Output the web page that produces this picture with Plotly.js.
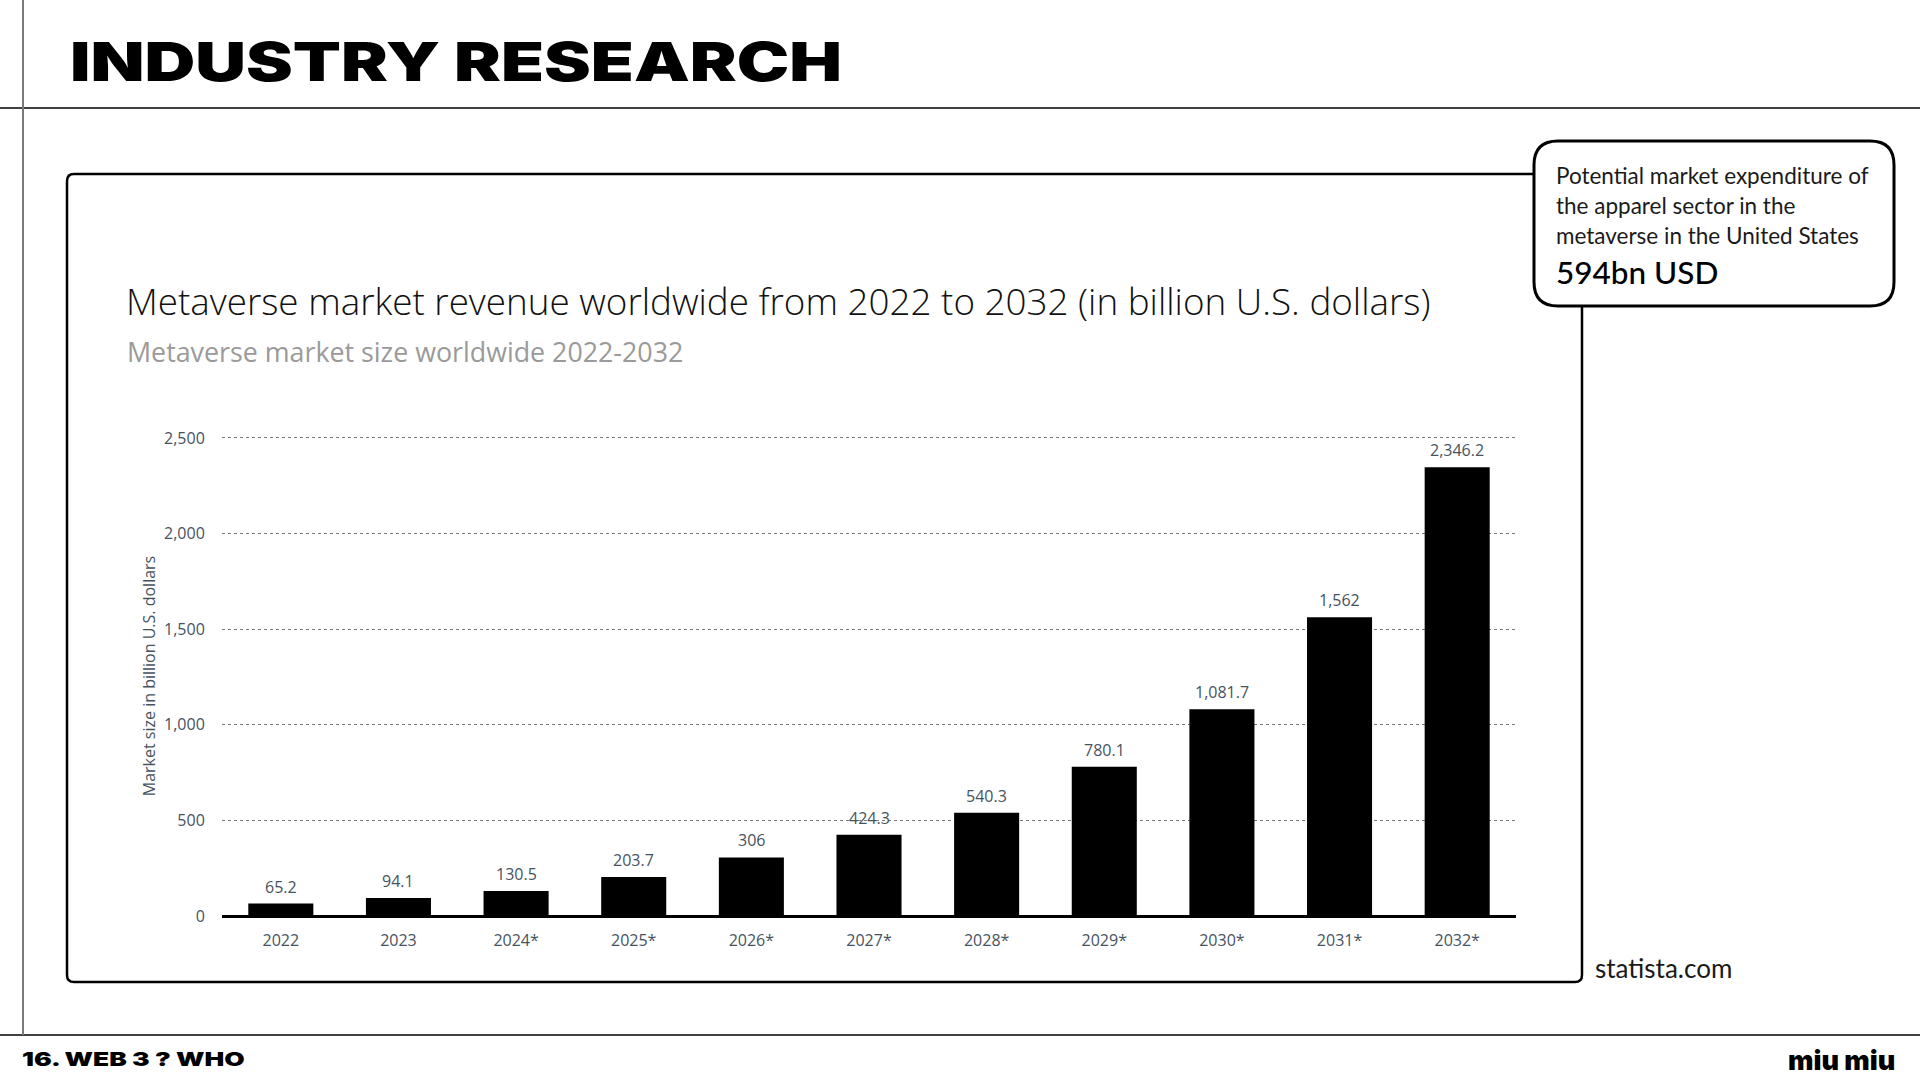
<!DOCTYPE html>
<html>
<head>
<meta charset="utf-8">
<script src="https://cdn.plot.ly/plotly-3.0.1.min.js"></script>
<style>
  html, body { margin: 0; padding: 0; background: #ffffff; }
  #chart { width: 1920px; height: 1080px; }
</style>
</head>
<body>
<div id="chart"></div>
<script>
// Metaverse market size worldwide, billion U.S. dollars (* = forecast)
const years = ['2022', '2023', '2024*', '2025*', '2026*', '2027*', '2028*', '2029*', '2030*', '2031*', '2032*'];
const marketSize = [65.2, 94.1, 130.5, 203.7, 306, 424.3, 540.3, 780.1, 1081.7, 1562, 2346.2];
const yTicks = [0, 500, 1000, 1500, 2000, 2500];

const chartTitle = 'Metaverse market revenue worldwide from 2022 to 2032 (in billion U.S. dollars)';
const chartSubtitle = 'Metaverse market size worldwide 2022-2032';
const yAxisTitle = 'Market size in billion U.S. dollars';
const pageTitle = 'INDUSTRY RESEARCH';
const calloutLines = ['Potential market expenditure of', 'the apparel sector in the', 'metaverse in the United States'];
const calloutValue = '594bn USD';
const sourceText = 'statista.com';
const footerLeft = '16. WEB 3 ? WHO';
const footerRight = 'miu miu';

// Plot area in page pixels; page decorations are positioned in pixels and
// converted to paper coordinates relative to this box.
const PLOT = { left: 222, right: 1516, top: 436, bottom: 916 };
const PW = PLOT.right - PLOT.left;
const PH = PLOT.bottom - PLOT.top;
const X = px => (px - PLOT.left) / PW;
const Y = py => (PLOT.bottom - py) / PH;

function roundRectPath(x0, y0, x1, y1, r) {
  const p = (x, y) => X(x).toFixed(5) + ',' + Y(y).toFixed(5);
  return 'M' + p(x0 + r, y0) +
    ' L' + p(x1 - r, y0) + ' Q' + p(x1, y0) + ' ' + p(x1, y0 + r) +
    ' L' + p(x1, y1 - r) + ' Q' + p(x1, y1) + ' ' + p(x1 - r, y1) +
    ' L' + p(x0 + r, y1) + ' Q' + p(x0, y1) + ' ' + p(x0, y1 - r) +
    ' L' + p(x0, y0 + r) + ' Q' + p(x0, y0) + ' ' + p(x0 + r, y0) + ' Z';
}

const slate = '#46535f';
const chartFont = 'Open Sans, Noto Sans, sans-serif';
const roundFont = 'Lato, Noto Sans, sans-serif';
const heavyFont = 'Inter, DejaVu Sans, sans-serif';

const trace = {
  type: 'bar',
  x: years,
  y: marketSize,
  marker: { color: '#000000', line: { width: 0 } },
  hoverinfo: 'skip'
};

function label(text, px, py, opts) {
  return Object.assign({
    text: text,
    xref: 'paper', yref: 'paper',
    x: X(px), y: Y(py),
    xanchor: 'left', yanchor: 'middle',
    showarrow: false,
    font: { family: roundFont, size: 19, color: '#111111' }
  }, opts || {});
}

// value labels above each bar (x is the category position)
const valueLabels = marketSize.map((v, i) => ({
  text: v.toLocaleString('en-US', { maximumFractionDigits: 1 }),
  xref: 'x', yref: 'y',
  x: i, y: v,
  xanchor: 'center', yanchor: 'middle',
  yshift: 17,
  showarrow: false,
  font: { family: chartFont, size: 16, color: slate }
}));

const annotations = valueLabels.concat([
  label(pageTitle, 70, 62, { font: { family: heavyFont, size: 53, color: '#000000', weight: 900 } }),
  label(chartTitle, 124, 301, { font: { family: chartFont, size: 36.8, color: '#111111', weight: 300 } }),
  label(chartSubtitle, 125, 351, { font: { family: chartFont, size: 26.8, color: '#9a9a9a' } }),
  label(calloutLines[0], 1554, 176, { font: { family: roundFont, size: 22.5, color: '#1a1a1a', weight: 400 } }),
  label(calloutLines[1], 1554, 206, { font: { family: roundFont, size: 22.5, color: '#1a1a1a', weight: 400 } }),
  label(calloutLines[2], 1554, 236, { font: { family: roundFont, size: 22.5, color: '#1a1a1a', weight: 400 } }),
  label(calloutValue, 1554, 272, { font: { family: roundFont, size: 31.5, color: '#000000', weight: 500 } }),
  label(sourceText, 1593, 968, { font: { family: roundFont, size: 26, color: '#1a1a1a', weight: 400 } }),
  label(footerLeft, 22, 1059, { font: { family: heavyFont, size: 19, color: '#000000', weight: 900 } }),
  label(footerRight, 1897, 1060, { xanchor: 'right', font: { family: heavyFont, size: 27, color: '#000000', weight: 900 } })
]);

// set widths of the extended display lettering
const extendedSpans = [
  { text: pageTitle, left: 70, width: 772 },
  { text: footerLeft, left: 22, width: 223 }
];

const shapes = [
  // page rules
  { type: 'line', xref: 'paper', yref: 'paper', x0: X(0), x1: X(1920), y0: Y(108), y1: Y(108), line: { color: '#000000', width: 1.5 } },
  { type: 'line', xref: 'paper', yref: 'paper', x0: X(0), x1: X(1920), y0: Y(1035), y1: Y(1035), line: { color: '#000000', width: 1.5 } },
  { type: 'line', xref: 'paper', yref: 'paper', x0: X(23), x1: X(23), y0: Y(0), y1: Y(1035), line: { color: '#7a7a7a', width: 2 } },
  // chart frame
  { type: 'path', xref: 'paper', yref: 'paper', path: roundRectPath(67, 174, 1582, 982, 7), line: { color: '#000000', width: 2.5 }, fillcolor: 'rgba(0,0,0,0)', layer: 'below' },
  // callout box
  { type: 'path', xref: 'paper', yref: 'paper', path: roundRectPath(1534, 141, 1894, 306, 24), line: { color: '#000000', width: 3 }, fillcolor: '#ffffff', layer: 'below' }
];

const layout = {
  width: 1920,
  height: 1080,
  margin: { l: PLOT.left, r: 1920 - PLOT.right, t: PLOT.top, b: 1080 - PLOT.bottom, pad: 0 },
  paper_bgcolor: '#ffffff',
  plot_bgcolor: 'rgba(0,0,0,0)',
  showlegend: false,
  bargap: 0.447,
  font: { family: chartFont, color: slate },
  xaxis: {
    type: 'category',
    showgrid: false,
    showline: false,
    ticks: 'outside',
    ticklen: 10,
    tickcolor: 'rgba(0,0,0,0)',
    tickfont: { family: chartFont, size: 16, color: slate },
    automargin: false
  },
  yaxis: {
    range: [0, 2510],
    tickvals: yTicks,
    tickformat: ',',
    showgrid: true,
    gridcolor: '#7a7a7a',
    gridwidth: 1,
    griddash: 'dot',
    zeroline: true,
    zerolinecolor: '#000000',
    zerolinewidth: 3,
    showline: false,
    ticks: 'outside',
    ticklen: 13,
    tickcolor: 'rgba(0,0,0,0)',
    tickfont: { family: chartFont, size: 16, color: slate },
    title: { text: yAxisTitle, font: { family: chartFont, size: 16, color: slate }, standoff: 4 },
    automargin: false
  },
  shapes: shapes,
  annotations: annotations
};

// Stretch the display lettering horizontally to its wide set width.
function extendLettering(gd) {
  const texts = gd.querySelectorAll('.annotation-text');
  extendedSpans.forEach(span => {
    texts.forEach(t => {
      if (t.textContent !== span.text) return;
      const box = t.getBBox();
      const ctm = t.getCTM();
      const screenLeft = box.x + (ctm ? ctm.e : 0);
      const sx = span.width / box.width;
      const targetLocal = box.x + (span.left - screenLeft);
      const prev = t.getAttribute('transform') || '';
      t.setAttribute('transform',
        'translate(' + targetLocal.toFixed(2) + ',0) scale(' + sx.toFixed(4) + ',1) translate(' + (-box.x).toFixed(2) + ',0) ' + prev);
    });
  });
}

Plotly.newPlot('chart', [trace], layout, { displayModeBar: false, staticPlot: true })
  .then(extendLettering);
</script>
</body>
</html>
